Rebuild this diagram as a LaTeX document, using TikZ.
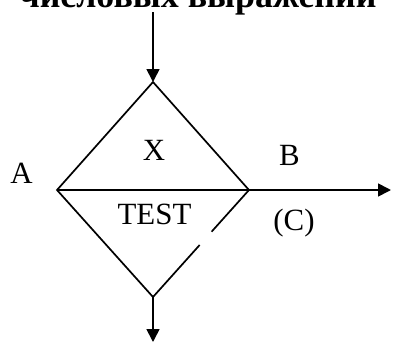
\documentclass[tikz,border=0pt]{standalone}
\usepackage{fontspec}
\setmainfont{Liberation Serif}
\usetikzlibrary{arrows.meta,calc}

\begin{document}
\begin{tikzpicture}[x=1bp, y=-1bp,
  line width=1.7bp,
  ar/.style={-{Triangle[length=13bp, width=13bp]}},
  lbl/.style={font=\fontsize{31}{36}\selectfont, inner sep=0pt},
  head/.style={font=\fontsize{36}{40}\selectfont\bfseries, inner sep=0pt, anchor=base},
]
\useasboundingbox (0,0) rectangle (393,343);
% heading, only its lower part is on the page
\node[head] (title) at (198,7) {числовых выражений};

% diamond corners and free ends
\coordinate (top) at (153,82);
\coordinate (lft) at (57,190);
\coordinate (rgt) at (249,190);
\coordinate (bot) at (153,297);
\coordinate (in) at (153,12);
\coordinate (out) at (391,190);
\coordinate (down) at (153,342);

% diamond, broken on the lower right side
\draw (rgt) -- (top) -- (lft) -- (bot) -- ($(bot)!0.486!(rgt)$);
\draw (rgt) -- ($(rgt)!0.39!(bot)$);

% connectors
\draw[ar] (in) -- (top);
\draw[ar] (lft) -- (out);
\draw[ar] (bot) -- (down);

% labels
\node[lbl] (x) at (154,150) {X};
\node[lbl] (test) at (154.5,214.5) {TEST};
\node[lbl] (a) at (21.5,173.5) {A};
\node[lbl] (b) at (289.5,155) {B};
\node[lbl] (c) at (294,223) {(C)};
\end{tikzpicture}
\end{document}
